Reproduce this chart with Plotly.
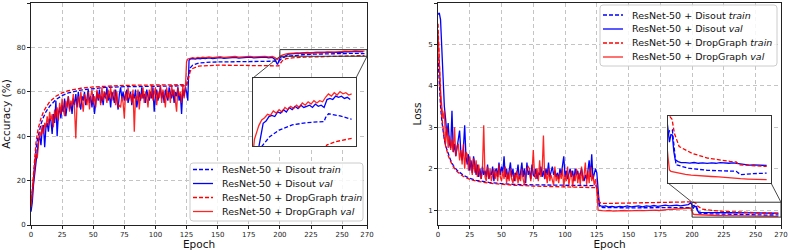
import plotly.graph_objects as go

W, H = 789, 250

# ---------------- data: accuracy (left) ----------------
acc_val_disout_early = [6,10,18,24,29,33,38,40,36,43,45,35,44,46,42,48,47,41,50,46,56,40,50,53,48,54,51,57,49,53,
    58,52,55,50,57,54,59,53,60,55,52,58,56,60,54,57,61,55,58,53,59,50,57,60,56,61,55,58,54,60,
    57,62,56,59,53,60,58,55,61,57,52,59,62,57,60,56,59,61,55,58,60,54,59,57,61,53,58,60,56,62,
    57,59,55,61,58,56,60,57,62,51,58,61,56,59,62,57,60,55,61,58,56,62,59,57,61,55,60,58,62,56,
    59,50,61,58,62,60,56]
acc_val_disout_late_ep = [127,128,130,132,134,136,138,140,143,146,149,152,155,158,161,164,167,170,173,176,179,182,185,188,191,194,196,198,199,200,
    201,203,205,207,209,211,213,215,217,219,221,223,225,227,229,231,233,235,237,239,241,243,245,247,249,251,253,255,257,259,261,263,265,267]
acc_val_disout_late = [74.2,74.8,75.0,74.7,75.1,74.9,75.2,75.0,75.3,75.0,75.2,75.4,75.1,75.3,75.2,75.5,75.2,75.4,75.3,75.6,75.3,75.5,75.4,75.6,75.3,75.5,74.6,72.3,73.5,75.2,
    75.8,75.6,76.3,77.0,77.1,77.3,77.35,77.3,77.5,77.45,77.6,77.5,77.7,77.6,77.75,77.65,77.8,77.7,77.75,77.8,77.7,77.85,77.75,77.8,77.7,78.05,78.1,78.05,78.2,78.15,78.2,78.1,78.15,78.05]

acc_val_dropgraph_early = [8,14,22,28,32,30,38,42,40,45,41,46,44,49,45,51,47,50,44,52,48,53,47,55,50,57,52,49,56,53,
    58,51,56,54,59,52,39,55,58,53,60,56,51,59,57,54,60,52,58,61,55,58,53,61,57,59,54,62,56,60,
    58,55,61,57,62,56,59,61,54,60,53,54,53,58,55,48,60,56,62,57,59,55,61,42,58,56,61,52,59,57,
    62,55,60,58,53,61,57,63,56,59,62,54,60,57,63,55,61,58,53,62,57,60,55,63,58,61,56,51,62,58,
    60,55,63,57,61]
acc_val_dropgraph_late_ep = [125,126,128,130,132,134,136,138,140,143,146,149,152,155,158,161,164,167,170,173,176,179,182,185,188,191,194,196,198,199,
    200,201,203,204,206,208,210,212,214,216,218,220,222,224,226,228,230,232,234,236,238,240,242,244,246,248,250,252,254,256,258,260,262,264,266,268]
acc_val_dropgraph_late = [73.5,74.8,75.2,75.4,75.1,75.5,75.3,75.6,75.4,75.7,75.4,75.6,75.8,75.5,75.7,75.6,75.9,75.6,75.8,75.7,76.0,75.7,75.9,75.8,76.0,75.7,75.9,75.4,74.6,75.0,
    75.8,76.3,76.7,76.9,77.15,77.25,77.4,77.35,77.55,77.45,77.6,77.5,77.7,77.6,77.75,77.65,77.8,77.7,77.9,77.8,77.95,77.85,78.0,77.9,78.0,77.95,78.15,78.3,78.2,78.35,78.25,78.4,78.3,78.35,78.25,78.3]

acc_train_disout_ep = [0,1,2,3,4,5,6,8,10,12,15,20,25,30,40,50,60,75,100,110,124,125,126,127,128,130,135,145,160,180,
    199,200,202,205,208,211.5,218,227,237,249,250,252,260,268]
acc_train_disout = [8,15,22,29,34,38,41,45.5,48.5,51,53.5,56.5,58.3,59.5,60.8,61.5,62,62.3,62.4,62.5,62.6,62.7,66,69,70.8,72,73,73.4,73.6,73.7,
    73.8,74.2,75.3,75.9,76.15,76.41,76.7,76.93,77.03,77.08,77.25,77.42,77.33,77.18]

acc_train_dropgraph_ep = [0,1,2,3,4,5,6,8,10,12,15,20,25,30,40,50,60,75,100,124,125,126,127,128,130,135,150,170,199,200,
    202,205,210,220,240,249,251,257,268]
acc_train_dropgraph = [9,17,25,32,37,41,44,48,51,53,55.5,58,59.5,60.5,61.6,62.2,62.6,62.9,63.1,63.2,63.2,65,67.5,69.3,70.5,71.6,72,71.9,71.7,72.5,
    74,74.9,75.3,75.6,75.8,75.85,76.05,76.19,76.34]

# ---------------- data: loss (right) ----------------
loss_val_disout_early = [5.72,5.76,5.6,4.9,4.0,3.5,3.2,2.8,3.1,2.6,2.5,3.4,2.4,2.6,2.3,2.5,2.8,2.92,2.4,2.2,
    2.5,3.05,2.3,2.1,2.35,1.95,2.2,1.9,2.3,2.05,1.85,2.1,1.8,2.0,1.75,2.05,1.85,1.95,1.8,2.1,
    1.75,1.9,1.85,2.05,1.7,1.95,2.0,1.8,2.15,1.85,2.05,1.9,2.3,1.8,2.0,1.75,1.95,2.15,1.8,2.0,
    1.7,1.9,1.85,2.1,1.75,1.9,2.15,1.8,2.0,1.65,2.15,1.85,1.95,1.75,2.1,1.85,1.8,2.0,1.75,1.9,
    1.85,2.05,1.8,1.95,1.75,2.0,1.85,2.15,1.8,1.9,2.05,1.85,1.95,1.8,1.9,1.75,2.0,1.85,2.1,2.3,
    1.8,1.95,1.75,1.9,2.0,1.8,1.95,1.7,2.0,1.85,1.95,1.75,1.9,2.0,1.8,1.7,1.85,1.75,1.95,2.2,
    1.8,2.35,1.75,1.85,2.0,1.9,1.6]
loss_val_disout_late_ep = [127,128,130,132,134,137,140,143,146,149,152,155,158,161,164,167,170,173,176,179,182,185,188,191,194,197,199,200,201,202,
    203,204,205,207,209,212,215,218,221,224,227,230,233,236,239,242,245,248,250,253,256,259,262,265,268]
loss_val_disout_late = [1.13,1.1,1.09,1.1,1.08,1.09,1.07,1.09,1.08,1.1,1.08,1.09,1.1,1.08,1.1,1.09,1.11,1.09,1.1,1.12,1.1,1.11,1.12,1.1,1.12,1.13,1.18,1.12,1.05,1.09,
    1.088,1.0,0.955,0.945,0.94,0.94,0.937,0.94,0.936,0.938,0.935,0.938,0.936,0.939,0.937,0.936,0.938,0.935,0.929,0.928,0.926,0.927,0.925,0.924,0.924]

loss_val_dropgraph_early = [5.3,4.5,3.9,3.5,3.2,3.4,2.6,3.0,2.5,2.8,2.45,2.7,2.4,3.0,2.3,2.55,2.6,2.2,2.45,2.1,
    2.6,2.0,2.4,2.35,1.95,2.3,2.05,1.85,2.25,1.9,2.2,1.8,2.1,1.85,1.75,2.0,3.05,1.8,1.7,2.05,
    1.75,2.0,1.7,1.9,2.0,1.75,1.95,1.7,2.1,1.8,1.7,1.95,1.75,2.05,1.65,1.9,1.7,2.0,1.75,1.65,
    1.9,1.7,1.95,1.65,1.85,1.7,2.0,1.75,1.6,1.85,2.0,2.05,2.0,1.7,1.9,2.45,1.85,1.75,2.0,1.7,
    2.2,1.8,1.95,2.8,1.75,1.9,1.65,2.0,1.7,1.85,1.75,1.6,2.05,1.7,1.85,1.65,1.9,1.75,2.0,1.55,
    1.85,1.7,2.05,1.6,1.8,1.95,1.55,1.85,1.7,2.0,1.65,1.9,1.6,2.05,1.7,1.85,2.15,1.6,1.95,1.65,
    2.05,1.7,1.85,1.6,1.75,1.5]
loss_val_dropgraph_late_ep = [126,127,129,132,135,138,141,144,147,150,153,156,159,162,165,168,171,174,177,179,182,185,188,191,194,197,199,200,201,202,
    205,208,212,216,220,225,230,235,240,245,248,250,255,260,268]
loss_val_dropgraph_late = [1.0,0.99,0.985,0.98,0.99,0.975,0.985,0.98,0.99,0.98,0.99,0.985,0.995,0.985,0.995,0.99,1.0,0.99,1.0,1.02,1.015,1.02,1.025,1.02,1.03,1.03,1.05,0.97,0.9,0.893,
    0.887,0.88,0.876,0.872,0.869,0.867,0.865,0.863,0.861,0.859,0.857,0.853,0.851,0.849,0.848]

loss_train_disout_ep = [0,1,2,3,4,5,6,8,10,12,15,20,25,30,40,50,60,75,100,124,125,126,127,128,130,150,175,199,200,201,
    203,205.5,214,227,247,250,258,268]
loss_train_disout = [4.7,4.0,3.5,3.15,2.9,2.7,2.55,2.35,2.2,2.08,1.96,1.84,1.77,1.72,1.67,1.64,1.62,1.61,1.6,1.59,1.57,1.3,1.1,1.07,1.06,1.055,1.06,1.06,1.08,1.11,
    1.115,0.928,0.91,0.898,0.893,0.875,0.88,0.883]

loss_train_dropgraph_ep = [0,1,2,3,4,5,6,8,10,12,15,20,25,30,40,50,60,75,100,124,125,126,127,128,130,150,175,199,200,202,
    202.8,204.4,207.7,216.4,227.3,242.7,247,249,268]
loss_train_dropgraph = [5.5,4.4,3.7,3.25,2.95,2.72,2.55,2.32,2.17,2.05,1.93,1.81,1.74,1.7,1.65,1.62,1.6,1.58,1.56,1.55,1.54,1.35,1.2,1.17,1.16,1.17,1.19,1.2,1.2,1.18,
    1.172,1.097,1.026,0.99,0.964,0.946,0.943,0.928,0.919]

xticks = [0, 25, 50, 75, 100, 125, 150, 175, 200, 225, 250, 270]
acc_ticks = [0, 20, 40, 60, 80, 100]
loss_ticks = [1, 2, 3, 4, 5, 6]
legend_labels = ["ResNet-50 + Disout <i>train</i>", "ResNet-50 + Disout <i>val</i>",
                 "ResNet-50 + DropGraph <i>train</i>", "ResNet-50 + DropGraph <i>val</i>"]

BLUE = "#0000ff"
RED = "#ff0000"
DASH = "4px,2px"
FONT = "DejaVu Sans"

def seq(early, late_ep, late):
    return list(range(len(early))) + list(late_ep), list(early) + list(late)

acc_series = [
    (acc_train_disout_ep, acc_train_disout, BLUE, DASH, 1.0),
    seq(acc_val_disout_early, acc_val_disout_late_ep, acc_val_disout_late) + (BLUE, "solid", 1.0),
    (acc_train_dropgraph_ep, acc_train_dropgraph, RED, DASH, 1.0),
    seq(acc_val_dropgraph_early, acc_val_dropgraph_late_ep, acc_val_dropgraph_late) + (RED, "solid", 0.85),
]
loss_series = [
    (loss_train_disout_ep, loss_train_disout, BLUE, DASH, 1.0),
    seq(loss_val_disout_early, loss_val_disout_late_ep, loss_val_disout_late) + (BLUE, "solid", 1.0),
    (loss_train_dropgraph_ep, loss_train_dropgraph, RED, DASH, 1.0),
    seq(loss_val_dropgraph_early, loss_val_dropgraph_late_ep, loss_val_dropgraph_late) + (RED, "solid", 0.85),
]

fig = go.Figure()
for (series, xa, ya) in [(acc_series, "x", "y"), (acc_series, "x3", "y3"),
                         (loss_series, "x2", "y2"), (loss_series, "x4", "y4")]:
    for i, (xs, ys, col, dash, op) in enumerate(series):
        fig.add_trace(go.Scatter(x=xs, y=ys, mode="lines", xaxis=xa, yaxis=ya,
                                 name=legend_labels[i], showlegend=False, opacity=op,
                                 line=dict(color=col, width=1.3, dash=dash)))

def px_x(p):
    return p / W

def px_y(p):
    return 1 - p / H

# domains (from pixel layout)
L_DOM_X = [px_x(31), px_x(367)]
R_DOM_X = [px_x(438), px_x(781)]
DOM_Y = [px_y(225), px_y(3)]
LI_DOM_X = [px_x(253), px_x(356)]
LI_DOM_Y = [px_y(146), px_y(78)]
RI_DOM_X = [px_x(668), px_x(771)]
RI_DOM_Y = [px_y(183), px_y(116)]

X_RANGE = [0, 270]
ACC_RANGE = [0, 100]
LOSS_RANGE = [0.64, 6.0]
ZOOM_X = [200, 270]
ACC_ZOOM_Y = [76, 79]
LOSS_ZOOM_Y = [0.83, 1.19]

axis_common = dict(showline=True, mirror=True, linecolor="#222", linewidth=1,
                   ticks="outside", ticklen=3, tickwidth=0.8, tickcolor="#222",
                   tickfont=dict(size=7, color="#222", family=FONT),
                   showgrid=True, gridcolor="#c4c4c4", griddash="4px,3px", gridwidth=0.8,
                   zeroline=False, automargin=False)
inset_common = dict(showline=True, mirror=True, linecolor="#333", linewidth=1,
                    ticks="", showticklabels=False, showgrid=False, zeroline=False,
                    automargin=False)
title_font = dict(size=10.5, color="#111", family=FONT)

fig.update_layout(
    width=W, height=H, margin=dict(l=0, r=0, t=0, b=0, autoexpand=False),
    paper_bgcolor="white", plot_bgcolor="white",
    font=dict(family=FONT),
    xaxis=dict(domain=L_DOM_X, range=X_RANGE, tickvals=xticks, anchor="y",
               title=dict(text="Epoch", font=title_font, standoff=2), **axis_common),
    yaxis=dict(domain=DOM_Y, range=ACC_RANGE, tickvals=acc_ticks, anchor="x",
               title=dict(text="Accuracy (%)", font=title_font, standoff=4), **axis_common),
    xaxis2=dict(domain=R_DOM_X, range=X_RANGE, tickvals=xticks, anchor="y2",
                title=dict(text="Epoch", font=title_font, standoff=2), **axis_common),
    yaxis2=dict(domain=DOM_Y, range=LOSS_RANGE, tickvals=loss_ticks, anchor="x2",
                title=dict(text="Loss", font=title_font, standoff=4), **axis_common),
    xaxis3=dict(domain=LI_DOM_X, range=[200, 271], anchor="y3", **inset_common),
    yaxis3=dict(domain=LI_DOM_Y, range=ACC_ZOOM_Y, anchor="x3", **inset_common),
    xaxis4=dict(domain=RI_DOM_X, range=[200, 271], anchor="y4", **inset_common),
    yaxis4=dict(domain=RI_DOM_Y, range=LOSS_ZOOM_Y, anchor="x4", **inset_common),
)

def d2p(v, rng, dom):
    return dom[0] + (v - rng[0]) / (rng[1] - rng[0]) * (dom[1] - dom[0])

def p2d(p, rng, dom):
    return rng[0] + (p - dom[0]) / (dom[1] - dom[0]) * (rng[1] - rng[0])

shapes = []
# hide main grid underneath insets
for (xr, yr, dx, dy, ix, iy) in [("x", "y", L_DOM_X, ACC_RANGE, LI_DOM_X, LI_DOM_Y),
                                 ("x2", "y2", R_DOM_X, LOSS_RANGE, RI_DOM_X, RI_DOM_Y)]:
    shapes.append(dict(type="rect", xref=xr, yref=yr, layer="between",
                       x0=p2d(ix[0], X_RANGE, dx), x1=p2d(ix[1], X_RANGE, dx),
                       y0=p2d(iy[0], dy, DOM_Y), y1=p2d(iy[1], dy, DOM_Y),
                       fillcolor="white", line=dict(width=0)))
# zoom rectangles
shapes.append(dict(type="rect", xref="x", yref="y", x0=ZOOM_X[0], x1=ZOOM_X[1],
                   y0=ACC_ZOOM_Y[0], y1=ACC_ZOOM_Y[1], line=dict(color="#333", width=1)))
shapes.append(dict(type="rect", xref="x2", yref="y2", x0=ZOOM_X[0], x1=ZOOM_X[1],
                   y0=LOSS_ZOOM_Y[0], y1=LOSS_ZOOM_Y[1], line=dict(color="#333", width=1)))
# connector lines (paper)
for (ixp, iyp, zx, zy, dx, yr) in [
        (LI_DOM_X[0], LI_DOM_Y[1], ZOOM_X[0], ACC_ZOOM_Y[0], L_DOM_X, ACC_RANGE),
        (LI_DOM_X[1], LI_DOM_Y[1], ZOOM_X[1], ACC_ZOOM_Y[0], L_DOM_X, ACC_RANGE),
        (RI_DOM_X[0], RI_DOM_Y[0], ZOOM_X[0], LOSS_ZOOM_Y[1], R_DOM_X, LOSS_RANGE),
        (RI_DOM_X[1], RI_DOM_Y[0], ZOOM_X[1], LOSS_ZOOM_Y[1], R_DOM_X, LOSS_RANGE)]:
    shapes.append(dict(type="line", xref="paper", yref="paper", x0=ixp, y0=iyp,
                       x1=d2p(zx, X_RANGE, dx), y1=d2p(zy, yr, DOM_Y),
                       line=dict(color="#333", width=0.9)))

annotations = []
def legend_box(x0, y0, x1, y1, line_x0, line_x1, text_x, rows):
    r = 3
    X0, X1 = px_x(x0), px_x(x1)
    Y0, Y1 = px_y(y0), px_y(y1)
    rx, ry = r / W, r / H
    path = (f"M{X0+rx},{Y0} L{X1-rx},{Y0} Q{X1},{Y0} {X1},{Y0-ry} "
            f"L{X1},{Y1+ry} Q{X1},{Y1} {X1-rx},{Y1} L{X0+rx},{Y1} Q{X0},{Y1} {X0},{Y1+ry} "
            f"L{X0},{Y0-ry} Q{X0},{Y0} {X0+rx},{Y0} Z")
    shapes.append(dict(type="path", path=path, xref="paper", yref="paper", layer="above",
                       fillcolor="rgba(255,255,255,0.85)", line=dict(color="#cccccc", width=1)))
    styles = [(BLUE, DASH, 1.0), (BLUE, "solid", 1.0), (RED, DASH, 1.0), (RED, "solid", 0.85)]
    for i, ry_ in enumerate(rows):
        col, dash, op = styles[i]
        shapes.append(dict(type="line", xref="paper", yref="paper", layer="above",
                           x0=px_x(line_x0), x1=px_x(line_x1), y0=px_y(ry_), y1=px_y(ry_),
                           opacity=op, line=dict(color=col, width=1.3, dash=dash)))
        annotations.append(dict(text=legend_labels[i], xref="paper", yref="paper",
                                x=px_x(text_x), y=px_y(ry_), xanchor="left", yanchor="middle",
                                showarrow=False, font=dict(size=9.5, color="#111", family=FONT)))

legend_box(190, 163, 363, 221, 193, 213, 220, [169.5, 183.5, 197.5, 211.5])
legend_box(600, 5, 777, 66, 603, 623, 630, [15, 29, 43, 57])

fig.update_layout(shapes=shapes, annotations=annotations)
# page body margin removed so the 789x250 figure fills the window exactly
fig.write_html("out.html", config={"displayModeBar": False},
               post_script="document.body.style.margin='0px';")
